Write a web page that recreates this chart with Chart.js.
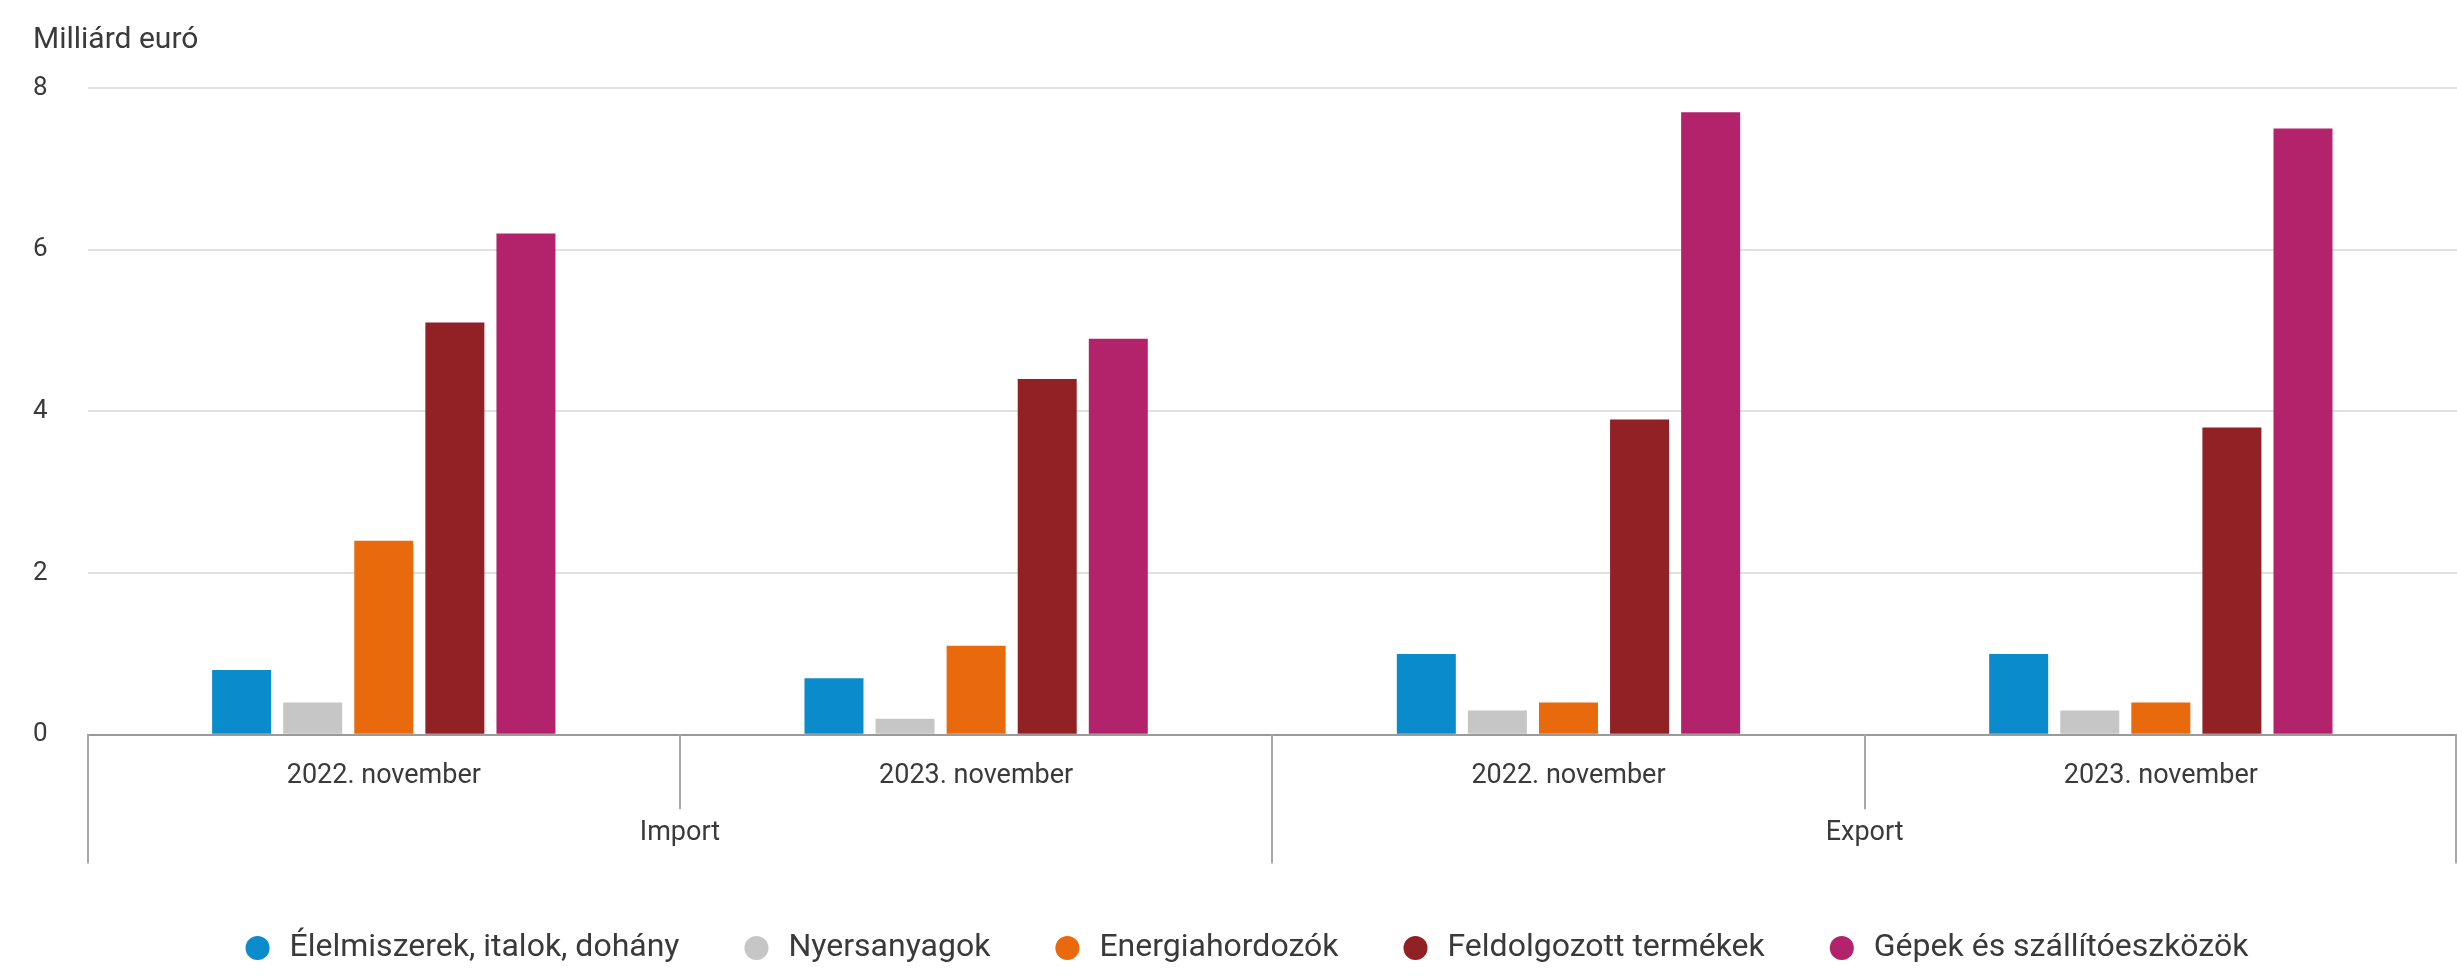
<!DOCTYPE html>
<html lang="hu">
<head>
<meta charset="utf-8">
<title>Import és export termékcsoportonként</title>
<script src="https://cdn.jsdelivr.net/npm/chart.js@4.4.1/dist/chart.umd.min.js"></script>
<style>
  html, body { margin: 0; padding: 0; background: #ffffff; }
  #wrap { width: 2457px; height: 976px; position: relative; }
</style>
</head>
<body>
<div id="wrap"><canvas id="tradeChart"></canvas></div>
<script>
// --- Data (milliárd euró) ---
const periods = ['2022. november', '2023. november', '2022. november', '2023. november'];
const flows = ['Import', 'Export'];
const yTicks = [0, 2, 4, 6, 8];

const seriesNames = [
    'Élelmiszerek, italok, dohány',
    'Nyersanyagok',
    'Energiahordozók',
    'Feldolgozott termékek',
    'Gépek és szállítóeszközök'
];
const food = [0.8, 0.7, 1.0, 1.0];
const rawMaterials = [0.4, 0.2, 0.3, 0.3];
const energy = [2.4, 1.1, 0.4, 0.4];
const manufactured = [5.1, 4.4, 3.9, 3.8];
const machinery = [6.2, 4.9, 7.7, 7.5];

const colors = ['#0a8bcb', '#c6c6c6', '#e9690d', '#922126', '#b3236b'];
const textColor = '#3a3a3a';
const fontFamily = 'Roboto, "Noto Sans", sans-serif';

// --- Separator lines under the x axis (short between years, long between Import/Export) ---
const separatorPlugin = {
    id: 'separators',
    afterDraw(chart) {
        const x = chart.scales.x;
        const x2 = chart.scales.x2;
        const ctx = chart.ctx;
        const n = periods.length;
        const perGroup = n / flows.length;
        const half = (x.getPixelForValue(1) - x.getPixelForValue(0)) / 2;
        ctx.save();
        ctx.strokeStyle = '#a8a8a8';
        ctx.lineWidth = 2;
        for (let i = 0; i <= n; i++) {
            const px = i < n ? x.getPixelForValue(i) - half : x.getPixelForValue(n - 1) + half;
            const isGroupEdge = i % perGroup === 0;
            const bottom = isGroupEdge ? x2.bottom + 14 : x.bottom;
            const xx = Math.min(Math.round(px), chart.width - 1);
            ctx.beginPath();
            ctx.moveTo(xx, x.top);
            ctx.lineTo(xx, bottom);
            ctx.stroke();
        }
        ctx.restore();
    }
};

const datasetValues = [food, rawMaterials, energy, manufactured, machinery];
const datasets = datasetValues.map((values, i) => ({
    label: seriesNames[i],
    data: values,
    xAxisID: 'x',
    backgroundColor: colors[i],
    hoverBackgroundColor: colors[i],
    borderWidth: 0,
    categoryPercentage: 0.6,
    barPercentage: 0.83
}));

const ctx = document.getElementById('tradeChart').getContext('2d');
new Chart(ctx, {
    type: 'bar',
    data: {
        labels: periods,
        datasets: datasets
    },
    options: {
        responsive: true,
        maintainAspectRatio: false,
        animation: false,
        layout: {
            padding: { left: 33, right: 0, top: 0, bottom: 2 }
        },
        scales: {
            x: {
                type: 'category',
                position: 'bottom',
                weight: 0,
                grid: { display: false },
                border: { display: true, color: '#9a9a9a', width: 2 },
                ticks: {
                    color: textColor,
                    padding: 17,
                    maxRotation: 0,
                    autoSkip: false,
                    font: { family: fontFamily, size: 27 }
                }
            },
            x2: {
                type: 'category',
                position: 'bottom',
                weight: 1,
                labels: flows,
                offset: true,
                grid: { display: false },
                border: { display: false },
                ticks: {
                    color: textColor,
                    padding: 0,
                    maxRotation: 0,
                    autoSkip: false,
                    font: { family: fontFamily, size: 27 }
                }
            },
            y: {
                min: 0,
                max: 8,
                afterBuildTicks: (scale) => {
                    scale.ticks = yTicks.map(v => ({ value: v }));
                },
                grid: { color: '#e0e0e0', lineWidth: 2, drawTicks: false },
                border: { display: false },
                ticks: {
                    color: textColor,
                    padding: 20,
                    crossAlign: 'far',
                    font: { family: fontFamily, size: 26 }
                }
            }
        },
        plugins: {
            title: {
                display: true,
                text: 'Milliárd euró',
                align: 'start',
                color: textColor,
                font: { family: fontFamily, size: 30, weight: 'normal' },
                padding: { top: 22, bottom: 30 }
            },
            legend: {
                display: true,
                position: 'bottom',
                title: {
                    display: true,
                    text: '',
                    font: { size: 12 },
                    padding: { top: 7, bottom: 0 }
                },
                labels: {
                    usePointStyle: true,
                    pointStyle: 'circle',
                    boxHeight: 17,
                    padding: 61,
                    color: textColor,
                    font: { family: fontFamily, size: 32 }
                }
            },
            tooltip: { enabled: true }
        }
    },
    plugins: [separatorPlugin]
});
</script>
</body>
</html>
